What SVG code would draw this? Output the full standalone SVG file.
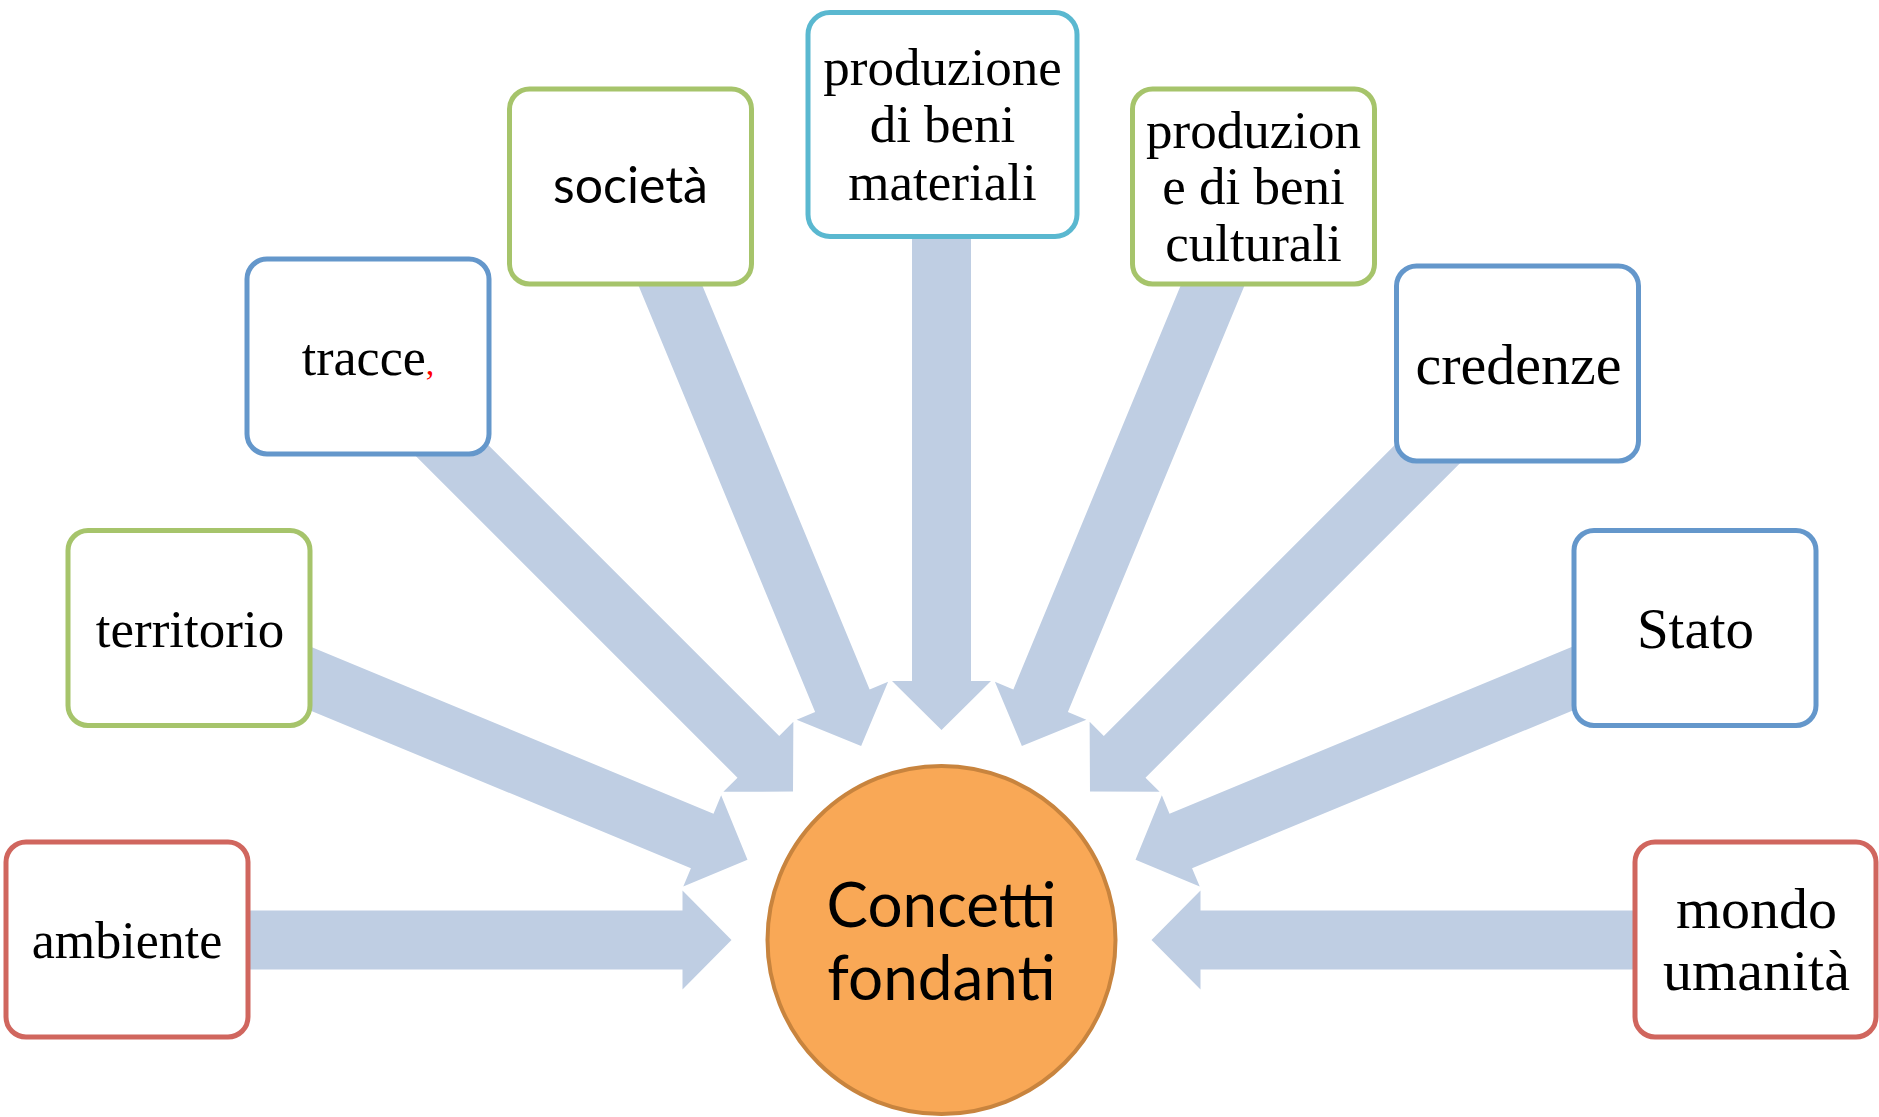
<svg xmlns="http://www.w3.org/2000/svg" width="1879" height="1117" viewBox="0 0 1879 1117">
<defs>
<style>
.arrow{fill:#bfcee3;}
.box{fill:#ffffff;stroke-width:5;}
.red{stroke:#d0665e;}
.green{stroke:#a6c46b;}
.blue{stroke:#6497cb;}
.teal{stroke:#5ab8d0;}
.t{font-family:"Liberation Serif","Times New Roman",serif;fill:#000;text-anchor:middle;}
.s{font-family:Lato,"Open Sans",sans-serif;fill:#000;text-anchor:middle;}
</style>
<path id="arr" d="M210,0 L259,-49.5 L259,-29.5 L800,-29.5 L800,29.5 L259,29.5 L259,49.5 Z"/>
</defs>
<rect width="1879" height="1117" fill="#ffffff"/>
<g id="connectors" class="arrow" transform="translate(941.5,940)">
<use href="#arr" transform="rotate(180)"/>
<use href="#arr" transform="rotate(-157.5)"/>
<use href="#arr" transform="rotate(-135)"/>
<use href="#arr" transform="rotate(-112.5)"/>
<use href="#arr" transform="rotate(-90)"/>
<use href="#arr" transform="rotate(-67.5)"/>
<use href="#arr" transform="rotate(-45)"/>
<use href="#arr" transform="rotate(-22.5)"/>
<use href="#arr" transform="rotate(0)"/>
</g>
<g id="center">
<circle cx="941.5" cy="940" r="174" fill="#f9a856" stroke="#c8843e" stroke-width="4"/>
<text class="s" x="941.5" y="927" font-size="62">Concetti</text>
<text class="s" x="941.5" y="1000" font-size="62">fondanti</text>
</g>
<g id="ambiente">
<rect class="box red" x="6" y="842" width="242" height="195" rx="20"/>
<text class="t" x="127" y="958" font-size="52">ambiente</text>
</g>
<g id="territorio">
<rect class="box green" x="68" y="530.5" width="242" height="195" rx="20"/>
<text class="t" x="190" y="647" font-size="53">territorio</text>
</g>
<g id="tracce">
<rect class="box blue" x="247" y="259" width="242" height="195" rx="20"/>
<text class="t" x="368" y="375" font-size="52">tracce<tspan fill="#ff0000" font-size="34">,</tspan></text>
</g>
<g id="societa">
<rect class="box green" x="509.5" y="89" width="242" height="195" rx="20"/>
<text class="s" x="630.5" y="203" font-size="50">società</text>
</g>
<g id="materiali">
<rect class="box teal" x="808" y="12.5" width="269" height="224" rx="22"/>
<text class="t" x="942.5" y="85" font-size="53">produzione</text>
<text class="t" x="942.5" y="142" font-size="53">di beni</text>
<text class="t" x="942.5" y="200" font-size="53">materiali</text>
</g>
<g id="culturali">
<rect class="box green" x="1132.5" y="89" width="242" height="195" rx="20"/>
<text class="t" x="1253.5" y="148" font-size="53">produzion</text>
<text class="t" x="1253.5" y="204" font-size="53">e di beni</text>
<text class="t" x="1253.5" y="261" font-size="53">culturali</text>
</g>
<g id="credenze">
<rect class="box blue" x="1396.5" y="266" width="242" height="195" rx="20"/>
<text class="t" x="1518.5" y="384" font-size="58">credenze</text>
</g>
<g id="stato">
<rect class="box blue" x="1574" y="530.5" width="242" height="195" rx="20"/>
<text class="t" x="1695.5" y="648" font-size="57">Stato</text>
</g>
<g id="mondo">
<rect class="box red" x="1635" y="842" width="241" height="195" rx="20"/>
<text class="t" x="1756.5" y="928" font-size="58">mondo</text>
<text class="t" x="1756.5" y="990" font-size="58">umanità</text>
</g>
</svg>
